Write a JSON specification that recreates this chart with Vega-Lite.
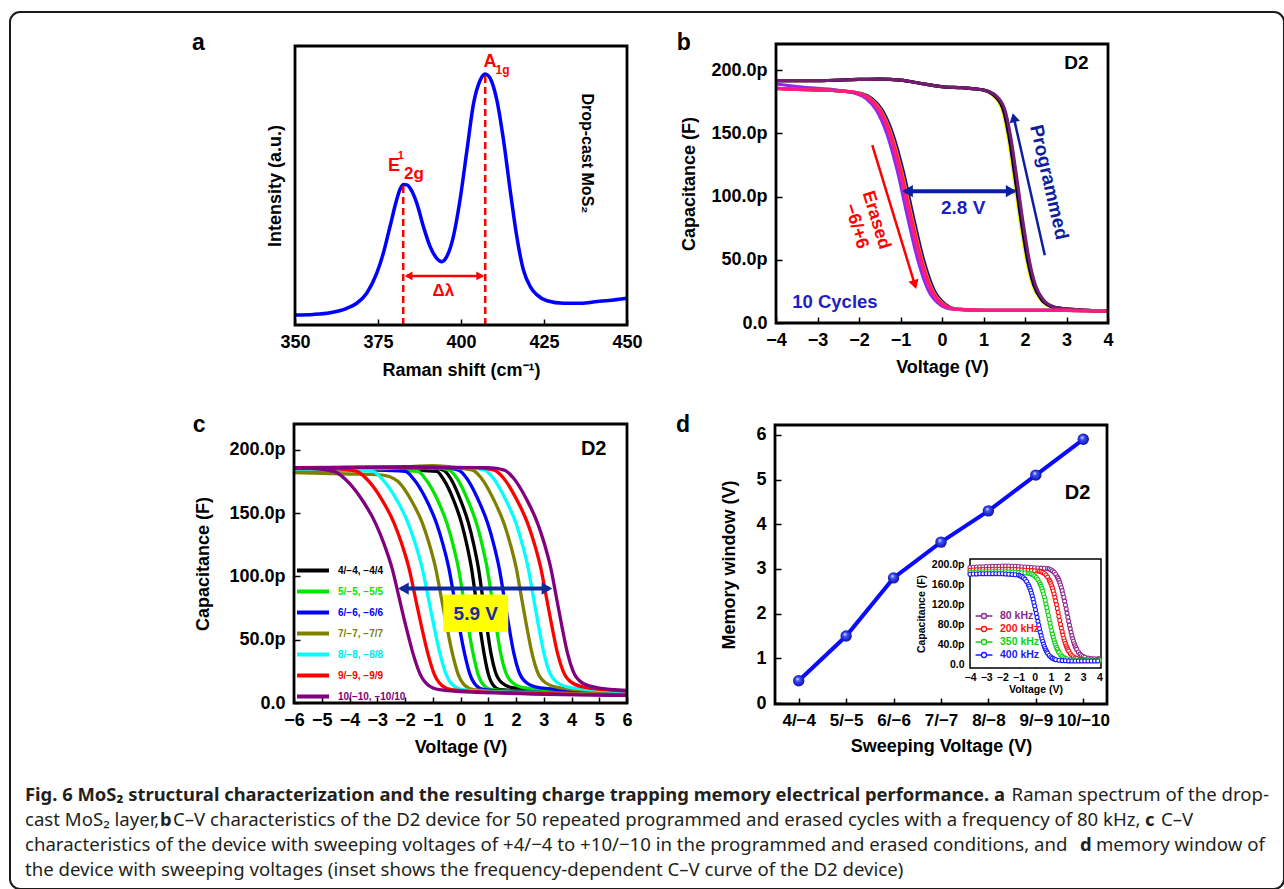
{
"$schema": "https://vega.github.io/schema/vega-lite/v6.json",
"width": 1274, "height": 877,
"padding": {"left": 10, "top": 12, "right": 0, "bottom": 0},
"autosize": {"type": "none"},
"background": "white",
"config": {
  "view": {"stroke": "#1a1a1a", "strokeWidth": 2, "cornerRadius": 10},
  "axis": {"grid": false, "domain": false, "labelFont": "Liberation Sans", "titleFont": "Liberation Sans", "labelFontWeight": "bold", "titleFontWeight": "bold", "labelColor": "#000", "titleColor": "#000", "tickColor": "#000", "tickWidth": 1.5, "tickSize": -6, "labelPadding": 14, "labelFontSize": 18, "titleFontSize": 18, "labelFlush": false, "labelOverlap": false, "labelBound": false}
},
"resolve": {"scale": {"x": "independent", "y": "independent", "color": "independent"}, "axis": {"x": "independent", "y": "independent"}, "legend": {"color": "independent"}},
"layer": [
{
  "layer": [
    {
      "data": {"values": [
        {"shift": 350, "intensity": 3.6}, {"shift": 355.5, "intensity": 3.8}, {"shift": 360.6, "intensity": 4.4}, {"shift": 365.6, "intensity": 6.0}, {"shift": 368.6, "intensity": 7.8}, {"shift": 371.6, "intensity": 11.4}, {"shift": 374.6, "intensity": 18.5}, {"shift": 376.6, "intensity": 25.7}, {"shift": 378.6, "intensity": 35.2}, {"shift": 380.6, "intensity": 44.8}, {"shift": 381.7, "intensity": 48.8}, {"shift": 382.7, "intensity": 50.4}, {"shift": 383.7, "intensity": 50.2}, {"shift": 384.7, "intensity": 49.0}, {"shift": 386.7, "intensity": 43.6}, {"shift": 388.7, "intensity": 35.2}, {"shift": 390.7, "intensity": 28.1}, {"shift": 392.7, "intensity": 23.9}, {"shift": 394.2, "intensity": 22.7}, {"shift": 395.7, "intensity": 24.5}, {"shift": 397.7, "intensity": 31.7}, {"shift": 399.7, "intensity": 44.8}, {"shift": 401.8, "intensity": 62.7}, {"shift": 403.8, "intensity": 79.5}, {"shift": 405.8, "intensity": 87.8}, {"shift": 406.6, "intensity": 89.5}, {"shift": 407.3, "intensity": 90.0}, {"shift": 408.0, "intensity": 89.6}, {"shift": 408.8, "intensity": 88.4}, {"shift": 410.8, "intensity": 80.6}, {"shift": 412.8, "intensity": 66.3}, {"shift": 414.8, "intensity": 48.4}, {"shift": 416.8, "intensity": 31.7}, {"shift": 418.8, "intensity": 19.7}, {"shift": 420.9, "intensity": 13.7}, {"shift": 422.9, "intensity": 10.8}, {"shift": 425.9, "intensity": 8.7}, {"shift": 430.9, "intensity": 7.8}, {"shift": 436, "intensity": 7.8}, {"shift": 441, "intensity": 8.4}, {"shift": 446, "intensity": 9.0}, {"shift": 450, "intensity": 9.6}
      ]},
      "mark": {"type": "line", "color": "#0000ff", "strokeWidth": 3.5, "interpolate": "monotone"},
      "encoding": {
        "x": {"field": "shift", "type": "quantitative", "scale": {"domain": [350, 450], "range": [285, 617], "nice": false, "zero": false},
              "axis": {"orient": "bottom", "offset": -564, "values": [350, 375, 400, 425, 450], "format": "d", "title": "Raman shift (cm⁻¹)", "titlePadding": 10}},
        "y": {"field": "intensity", "type": "quantitative", "scale": {"domain": [0, 100], "range": [313, 34], "nice": false, "zero": false},
              "axis": {"orient": "left", "offset": -285, "labels": false, "ticks": false, "title": "Intensity (a.u.)", "titlePadding": 11}}
      }
    },
    {"data": {"values": [{}]}, "mark": {"type": "rule", "color": "#ff0000", "strokeWidth": 2.5, "strokeDash": [7, 4]}, "encoding": {"x": {"datum": 382.6}, "y": {"datum": 0}, "y2": {"datum": 50.4}}},
    {"data": {"values": [{}]}, "mark": {"type": "rule", "color": "#ff0000", "strokeWidth": 2.5, "strokeDash": [7, 4]}, "encoding": {"x": {"datum": 407.3}, "y": {"datum": 0}, "y2": {"datum": 90}}},
    {"data": {"values": [{}]}, "mark": {"type": "rule", "color": "#ff0000", "strokeWidth": 2.5}, "encoding": {"x": {"datum": 383.5}, "x2": {"datum": 406.5}, "y": {"datum": 17.6}}},
    {"data": {"values": [{}]}, "mark": {"type": "point", "shape": "triangle-left", "filled": true, "opacity": 1, "size": 80, "color": "#ff0000"}, "encoding": {"x": {"datum": 384.2}, "y": {"datum": 17.6}}},
    {"data": {"values": [{}]}, "mark": {"type": "point", "shape": "triangle-right", "filled": true, "opacity": 1, "size": 80, "color": "#ff0000"}, "encoding": {"x": {"datum": 405.8}, "y": {"datum": 17.6}}},
    {"data": {"values": [{}]}, "mark": {"type": "text", "text": "Δλ", "color": "#ff0000", "font": "Liberation Sans", "fontWeight": "bold", "fontSize": 17, "align": "center", "baseline": "middle"}, "encoding": {"x": {"datum": 394.7}, "y": {"datum": 12.3}}},
    {"data": {"values": [{}]}, "mark": {"type": "text", "text": "E", "color": "#ff0000", "font": "Liberation Sans", "fontWeight": "bold", "fontSize": 18, "align": "center", "baseline": "middle"}, "encoding": {"x": {"datum": 379.8}, "y": {"datum": 57.1}}},
    {"data": {"values": [{}]}, "mark": {"type": "text", "text": "1", "color": "#ff0000", "font": "Liberation Sans", "fontWeight": "bold", "fontSize": 11, "align": "center", "baseline": "middle"}, "encoding": {"x": {"datum": 381.9}, "y": {"datum": 60.5}}},
    {"data": {"values": [{}]}, "mark": {"type": "text", "text": "2g", "color": "#ff0000", "font": "Liberation Sans", "fontWeight": "bold", "fontSize": 17, "align": "center", "baseline": "middle"}, "encoding": {"x": {"datum": 385.8}, "y": {"datum": 54.3}}},
    {"data": {"values": [{}]}, "mark": {"type": "text", "text": "A", "color": "#ff0000", "font": "Liberation Sans", "fontWeight": "bold", "fontSize": 18, "align": "center", "baseline": "middle"}, "encoding": {"x": {"datum": 408.7}, "y": {"datum": 94.3}}},
    {"data": {"values": [{}]}, "mark": {"type": "text", "text": "1g", "color": "#ff0000", "font": "Liberation Sans", "fontWeight": "bold", "fontSize": 12, "align": "center", "baseline": "middle"}, "encoding": {"x": {"datum": 412.5}, "y": {"datum": 91.3}}},
    {"data": {"values": [{}]}, "mark": {"type": "text", "text": "Drop-cast MoS₂", "angle": 90, "color": "#000", "font": "Liberation Sans", "fontWeight": "bold", "fontSize": 16, "align": "center", "baseline": "middle"}, "encoding": {"x": {"datum": 437.9}, "y": {"datum": 61.5}}},
    {"data": {"values": [{}]}, "mark": {"type": "text", "text": "a", "color": "#000", "font": "Liberation Sans", "fontWeight": "bold", "fontSize": 23, "align": "center", "baseline": "middle"}, "encoding": {"x": {"datum": 320.9}, "y": {"datum": 101}}},
    {"data": {"values": [{}]}, "mark": {"type": "rect", "filled": false, "stroke": "#000", "strokeWidth": 2.8}, "encoding": {"x": {"datum": 350}, "x2": {"datum": 450}, "y": {"datum": 0}, "y2": {"datum": 100}}}
  ]
},
{
  "layer": [
    {
      "data": {"values": [
        {"v": -4, "c": 191.6, "s": "P1"}, {"v": -3, "c": 191.6, "s": "P1"}, {"v": -2, "c": 192.6, "s": "P1"}, {"v": -1.5, "c": 192.9, "s": "P1"}, {"v": -1, "c": 192, "s": "P1"}, {"v": -0.5, "c": 189.4, "s": "P1"}, {"v": 0, "c": 186.8, "s": "P1"}, {"v": 0.5, "c": 186, "s": "P1"}, {"v": 1, "c": 184.2, "s": "P1"},
        {"v": 1.18, "c": 181, "s": "P1"}, {"v": 1.43, "c": 170, "s": "P1"}, {"v": 1.58, "c": 148, "s": "P1"}, {"v": 1.73, "c": 115, "s": "P1"}, {"v": 1.88, "c": 80, "s": "P1"}, {"v": 2.03, "c": 50, "s": "P1"}, {"v": 2.18, "c": 30, "s": "P1"}, {"v": 2.38, "c": 18, "s": "P1"}, {"v": 2.63, "c": 12.7, "s": "P1"}, {"v": 2.88, "c": 11.3, "s": "P1"}, {"v": 3.5, "c": 10, "s": "P1"}, {"v": 4, "c": 9.2, "s": "P1"},
        {"v": -4, "c": 191.6, "s": "P2"}, {"v": -3, "c": 191.6, "s": "P2"}, {"v": -2, "c": 192.6, "s": "P2"}, {"v": -1.5, "c": 192.9, "s": "P2"}, {"v": -1, "c": 192, "s": "P2"}, {"v": -0.5, "c": 189.4, "s": "P2"}, {"v": 0, "c": 186.8, "s": "P2"}, {"v": 0.5, "c": 186, "s": "P2"}, {"v": 1, "c": 184.2, "s": "P2"},
        {"v": 1.21, "c": 181, "s": "P2"}, {"v": 1.46, "c": 170, "s": "P2"}, {"v": 1.61, "c": 148, "s": "P2"}, {"v": 1.76, "c": 115, "s": "P2"}, {"v": 1.91, "c": 80, "s": "P2"}, {"v": 2.06, "c": 50, "s": "P2"}, {"v": 2.21, "c": 30, "s": "P2"}, {"v": 2.41, "c": 18, "s": "P2"}, {"v": 2.66, "c": 12.7, "s": "P2"}, {"v": 2.91, "c": 11.3, "s": "P2"}, {"v": 3.5, "c": 10, "s": "P2"}, {"v": 4, "c": 9.2, "s": "P2"},
        {"v": -4, "c": 191.6, "s": "P3"}, {"v": -3, "c": 191.6, "s": "P3"}, {"v": -2, "c": 192.6, "s": "P3"}, {"v": -1.5, "c": 192.9, "s": "P3"}, {"v": -1, "c": 192, "s": "P3"}, {"v": -0.5, "c": 189.4, "s": "P3"}, {"v": 0, "c": 186.8, "s": "P3"}, {"v": 0.5, "c": 186, "s": "P3"}, {"v": 1, "c": 184.2, "s": "P3"},
        {"v": 1.23, "c": 181, "s": "P3"}, {"v": 1.48, "c": 170, "s": "P3"}, {"v": 1.63, "c": 148, "s": "P3"}, {"v": 1.78, "c": 115, "s": "P3"}, {"v": 1.93, "c": 80, "s": "P3"}, {"v": 2.08, "c": 50, "s": "P3"}, {"v": 2.23, "c": 30, "s": "P3"}, {"v": 2.43, "c": 18, "s": "P3"}, {"v": 2.68, "c": 12.7, "s": "P3"}, {"v": 2.93, "c": 11.3, "s": "P3"}, {"v": 3.5, "c": 10, "s": "P3"}, {"v": 4, "c": 9.2, "s": "P3"},
        {"v": -4, "c": 191.6, "s": "P4"}, {"v": -3, "c": 191.6, "s": "P4"}, {"v": -2, "c": 192.6, "s": "P4"}, {"v": -1.5, "c": 192.9, "s": "P4"}, {"v": -1, "c": 192, "s": "P4"}, {"v": -0.5, "c": 189.4, "s": "P4"}, {"v": 0, "c": 186.8, "s": "P4"}, {"v": 0.5, "c": 186, "s": "P4"}, {"v": 1, "c": 184.2, "s": "P4"},
        {"v": 1.25, "c": 181, "s": "P4"}, {"v": 1.5, "c": 170, "s": "P4"}, {"v": 1.65, "c": 148, "s": "P4"}, {"v": 1.8, "c": 115, "s": "P4"}, {"v": 1.95, "c": 80, "s": "P4"}, {"v": 2.1, "c": 50, "s": "P4"}, {"v": 2.25, "c": 30, "s": "P4"}, {"v": 2.45, "c": 18, "s": "P4"}, {"v": 2.7, "c": 12.7, "s": "P4"}, {"v": 2.95, "c": 11.3, "s": "P4"}, {"v": 3.5, "c": 10, "s": "P4"}, {"v": 4, "c": 9.2, "s": "P4"},
        {"v": -4, "c": 189, "s": "E1"}, {"v": -3.5, "c": 187, "s": "E1"}, {"v": -3, "c": 185.5, "s": "E1"}, {"v": -2.5, "c": 184, "s": "E1"}, {"v": -2.08, "c": 181.5, "s": "E1"}, {"v": -1.83, "c": 177.6, "s": "E1"}, {"v": -1.58, "c": 168.3, "s": "E1"}, {"v": -1.33, "c": 149.9, "s": "E1"}, {"v": -1.08, "c": 120.8, "s": "E1"}, {"v": -0.83, "c": 83.9, "s": "E1"}, {"v": -0.58, "c": 49.6, "s": "E1"}, {"v": -0.33, "c": 25.9, "s": "E1"}, {"v": -0.08, "c": 15.3, "s": "E1"}, {"v": 0.17, "c": 11.3, "s": "E1"}, {"v": 0.42, "c": 10.6, "s": "E1"}, {"v": 1, "c": 10, "s": "E1"}, {"v": 2, "c": 10, "s": "E1"}, {"v": 3, "c": 10, "s": "E1"}, {"v": 4, "c": 9.5, "s": "E1"},
        {"v": -4, "c": 185.5, "s": "E2"}, {"v": -3.5, "c": 184.7, "s": "E2"}, {"v": -3, "c": 184.2, "s": "E2"}, {"v": -2.5, "c": 183.6, "s": "E2"}, {"v": -1.94, "c": 181.5, "s": "E2"}, {"v": -1.69, "c": 177.6, "s": "E2"}, {"v": -1.44, "c": 168.3, "s": "E2"}, {"v": -1.19, "c": 149.9, "s": "E2"}, {"v": -0.94, "c": 120.8, "s": "E2"}, {"v": -0.69, "c": 83.9, "s": "E2"}, {"v": -0.44, "c": 49.6, "s": "E2"}, {"v": -0.19, "c": 25.9, "s": "E2"}, {"v": 0.06, "c": 15.3, "s": "E2"}, {"v": 0.31, "c": 11.3, "s": "E2"}, {"v": 0.56, "c": 10.6, "s": "E2"}, {"v": 1, "c": 10, "s": "E2"}, {"v": 2, "c": 10, "s": "E2"}, {"v": 3, "c": 10, "s": "E2"}, {"v": 4, "c": 9.5, "s": "E2"},
        {"v": -4, "c": 185.5, "s": "E3"}, {"v": -3.5, "c": 184.7, "s": "E3"}, {"v": -3, "c": 184.2, "s": "E3"}, {"v": -2.5, "c": 183.6, "s": "E3"}, {"v": -1.98, "c": 181.5, "s": "E3"}, {"v": -1.73, "c": 177.6, "s": "E3"}, {"v": -1.48, "c": 168.3, "s": "E3"}, {"v": -1.23, "c": 149.9, "s": "E3"}, {"v": -0.98, "c": 120.8, "s": "E3"}, {"v": -0.73, "c": 83.9, "s": "E3"}, {"v": -0.48, "c": 49.6, "s": "E3"}, {"v": -0.23, "c": 25.9, "s": "E3"}, {"v": 0.02, "c": 15.3, "s": "E3"}, {"v": 0.27, "c": 11.3, "s": "E3"}, {"v": 0.52, "c": 10.6, "s": "E3"}, {"v": 1, "c": 10, "s": "E3"}, {"v": 2, "c": 10, "s": "E3"}, {"v": 3, "c": 10, "s": "E3"}, {"v": 4, "c": 9.5, "s": "E3"},
        {"v": -4, "c": 185.5, "s": "E4"}, {"v": -3.5, "c": 184.7, "s": "E4"}, {"v": -3, "c": 184.2, "s": "E4"}, {"v": -2.5, "c": 183.6, "s": "E4"}, {"v": -2, "c": 181.5, "s": "E4"}, {"v": -1.75, "c": 177.6, "s": "E4"}, {"v": -1.5, "c": 168.3, "s": "E4"}, {"v": -1.25, "c": 149.9, "s": "E4"}, {"v": -1.0, "c": 120.8, "s": "E4"}, {"v": -0.75, "c": 83.9, "s": "E4"}, {"v": -0.5, "c": 49.6, "s": "E4"}, {"v": -0.25, "c": 25.9, "s": "E4"}, {"v": 0, "c": 15.3, "s": "E4"}, {"v": 0.25, "c": 11.3, "s": "E4"}, {"v": 0.5, "c": 10.6, "s": "E4"}, {"v": 1, "c": 10, "s": "E4"}, {"v": 2, "c": 10, "s": "E4"}, {"v": 3, "c": 10, "s": "E4"}, {"v": 4, "c": 9.5, "s": "E4"},
        {"v": -4, "c": 185.5, "s": "E5"}, {"v": -3.5, "c": 184.7, "s": "E5"}, {"v": -3, "c": 184.2, "s": "E5"}, {"v": -2.5, "c": 183.6, "s": "E5"}, {"v": -2.02, "c": 181.5, "s": "E5"}, {"v": -1.77, "c": 177.6, "s": "E5"}, {"v": -1.52, "c": 168.3, "s": "E5"}, {"v": -1.27, "c": 149.9, "s": "E5"}, {"v": -1.02, "c": 120.8, "s": "E5"}, {"v": -0.77, "c": 83.9, "s": "E5"}, {"v": -0.52, "c": 49.6, "s": "E5"}, {"v": -0.27, "c": 25.9, "s": "E5"}, {"v": -0.02, "c": 15.3, "s": "E5"}, {"v": 0.23, "c": 11.3, "s": "E5"}, {"v": 0.48, "c": 10.6, "s": "E5"}, {"v": 1, "c": 10, "s": "E5"}, {"v": 2, "c": 10, "s": "E5"}, {"v": 3, "c": 10, "s": "E5"}, {"v": 4, "c": 9.5, "s": "E5"}
      ]},
      "mark": {"type": "line", "strokeWidth": 3.2, "interpolate": "monotone"},
      "encoding": {
        "x": {"field": "v", "type": "quantitative", "scale": {"domain": [-4, 4], "range": [766, 1098], "nice": false, "zero": false},
              "axis": {"orient": "bottom", "offset": -566, "values": [-4, -3, -2, -1, 0, 1, 2, 3, 4], "format": "d", "title": "Voltage (V)", "titlePadding": 9}},
        "y": {"field": "c", "type": "quantitative", "scale": {"domain": [0, 220.6], "range": [311, 32], "nice": false, "zero": false},
              "axis": {"orient": "left", "offset": -766, "values": [0, 50, 100, 150, 200], "labelExpr": "datum.value == 0 ? '0.0' : format(datum.value, '.1f') + 'p'", "labelPadding": 15, "title": "Capacitance (F)", "titlePadding": 12}},
        "color": {"field": "s", "type": "nominal", "scale": {"domain": ["P1", "P2", "P3", "P4", "E1", "E2", "E3", "E4", "E5"], "range": ["#ffff00", "#000080", "#000000", "#761c72", "#8f2be8", "#14148c", "#ff8c00", "#ff2020", "#ff1a8c"]}, "legend": null}
      }
    },
    {"data": {"values": [{}]}, "mark": {"type": "rule", "color": "#0b1fa3", "strokeWidth": 4}, "encoding": {"x": {"datum": -0.9}, "x2": {"datum": 1.75}, "y": {"datum": 104.2}}},
    {"data": {"values": [{}]}, "mark": {"type": "point", "shape": "triangle-left", "filled": true, "opacity": 1, "size": 150, "color": "#0b1fa3"}, "encoding": {"x": {"datum": -0.83}, "y": {"datum": 104.2}}},
    {"data": {"values": [{}]}, "mark": {"type": "point", "shape": "triangle-right", "filled": true, "opacity": 1, "size": 150, "color": "#0b1fa3"}, "encoding": {"x": {"datum": 1.665}, "y": {"datum": 104.2}}},
    {"data": {"values": [{}]}, "mark": {"type": "rule", "color": "#ff0000", "strokeWidth": 2.5}, "encoding": {"x": {"datum": -1.68}, "y": {"datum": 140.6}, "x2": {"datum": -0.655}, "y2": {"datum": 30.4}}},
    {"data": {"values": [{}]}, "mark": {"type": "point", "shape": "triangle-down", "angle": 343, "filled": true, "opacity": 1, "size": 110, "color": "#ff0000"}, "encoding": {"x": {"datum": -0.655}, "y": {"datum": 30.4}}},
    {"data": {"values": [{}]}, "mark": {"type": "rule", "color": "#0d1f9e", "strokeWidth": 2.5}, "encoding": {"x": {"datum": 2.477}, "y": {"datum": 53.6}, "x2": {"datum": 1.73}, "y2": {"datum": 162.4}}},
    {"data": {"values": [{}]}, "mark": {"type": "point", "shape": "triangle-up", "angle": 347, "filled": true, "opacity": 1, "size": 110, "color": "#0d1f9e"}, "encoding": {"x": {"datum": 1.73}, "y": {"datum": 162.4}}},
    {"data": {"values": [{}]}, "mark": {"type": "text", "text": "D2", "color": "#000", "font": "Liberation Sans", "fontWeight": "bold", "fontSize": 19, "align": "center", "baseline": "middle"}, "encoding": {"x": {"datum": 3.24}, "y": {"datum": 205.5}}},
    {"data": {"values": [{}]}, "mark": {"type": "text", "text": "10 Cycles", "color": "#1f1fbf", "font": "Liberation Sans", "fontWeight": "bold", "fontSize": 18.5, "align": "center", "baseline": "middle"}, "encoding": {"x": {"datum": -2.58}, "y": {"datum": 16.4}}},
    {"data": {"values": [{}]}, "mark": {"type": "text", "text": "2.8 V", "color": "#1f1fbf", "font": "Liberation Sans", "fontWeight": "bold", "fontSize": 19, "align": "center", "baseline": "middle"}, "encoding": {"x": {"datum": 0.51}, "y": {"datum": 91.3}}},
    {"data": {"values": [{}]}, "mark": {"type": "text", "text": "Erased", "angle": 73, "color": "#ff0000", "font": "Liberation Sans", "fontWeight": "bold", "fontSize": 18, "align": "center", "baseline": "middle"}, "encoding": {"x": {"datum": -1.59}, "y": {"datum": 81.3}}},
    {"data": {"values": [{}]}, "mark": {"type": "text", "text": "−6/+6", "angle": 73, "color": "#ff0000", "font": "Liberation Sans", "fontWeight": "bold", "fontSize": 18, "align": "center", "baseline": "middle"}, "encoding": {"x": {"datum": -2.07}, "y": {"datum": 76.5}}},
    {"data": {"values": [{}]}, "mark": {"type": "text", "text": "Programmed", "angle": 77, "color": "#0d1f9e", "font": "Liberation Sans", "fontWeight": "bold", "fontSize": 19, "align": "center", "baseline": "middle"}, "encoding": {"x": {"datum": 2.58}, "y": {"datum": 111.3}}},
    {"data": {"values": [{}]}, "mark": {"type": "text", "text": "b", "color": "#000", "font": "Liberation Sans", "fontWeight": "bold", "fontSize": 23, "align": "center", "baseline": "middle"}, "encoding": {"x": {"datum": -6.22}, "y": {"datum": 221.2}}},
    {"data": {"values": [{}]}, "mark": {"type": "rect", "filled": false, "stroke": "#000", "strokeWidth": 2.8}, "encoding": {"x": {"datum": -4}, "x2": {"datum": 4}, "y": {"datum": 0}, "y2": {"datum": 220.6}}}
  ]
},
{
  "layer": [
    {
      "data": {"values": [
        {"v": -6, "c": 185, "sweep": "4/−4, −4/4", "branch": "4L"}, {"v": -3, "c": 185, "sweep": "4/−4, −4/4", "branch": "4L"}, {"v": -0.86, "c": 183, "sweep": "4/−4, −4/4", "branch": "4L"}, {"v": -0.62, "c": 177, "sweep": "4/−4, −4/4", "branch": "4L"}, {"v": -0.26, "c": 161, "sweep": "4/−4, −4/4", "branch": "4L"}, {"v": 0.04, "c": 142, "sweep": "4/−4, −4/4", "branch": "4L"}, {"v": 0.22, "c": 126, "sweep": "4/−4, −4/4", "branch": "4L"}, {"v": 0.40, "c": 106, "sweep": "4/−4, −4/4", "branch": "4L"}, {"v": 0.55, "c": 83, "sweep": "4/−4, −4/4", "branch": "4L"}, {"v": 0.70, "c": 60, "sweep": "4/−4, −4/4", "branch": "4L"}, {"v": 0.85, "c": 39, "sweep": "4/−4, −4/4", "branch": "4L"}, {"v": 1.00, "c": 23, "sweep": "4/−4, −4/4", "branch": "4L"}, {"v": 1.18, "c": 14, "sweep": "4/−4, −4/4", "branch": "4L"}, {"v": 1.42, "c": 10.5, "sweep": "4/−4, −4/4", "branch": "4L"}, {"v": 3, "c": 9, "sweep": "4/−4, −4/4", "branch": "4L"}, {"v": 6, "c": 7.5, "sweep": "4/−4, −4/4", "branch": "4L"},
        {"v": -6, "c": 185, "sweep": "4/−4, −4/4", "branch": "4R"}, {"v": -3, "c": 185.5, "sweep": "4/−4, −4/4", "branch": "4R"}, {"v": -1.09, "c": 186, "sweep": "4/−4, −4/4", "branch": "4R"}, {"v": -0.61, "c": 184, "sweep": "4/−4, −4/4", "branch": "4R"}, {"v": -0.37, "c": 178, "sweep": "4/−4, −4/4", "branch": "4R"}, {"v": -0.01, "c": 161, "sweep": "4/−4, −4/4", "branch": "4R"}, {"v": 0.29, "c": 142, "sweep": "4/−4, −4/4", "branch": "4R"}, {"v": 0.47, "c": 126, "sweep": "4/−4, −4/4", "branch": "4R"}, {"v": 0.65, "c": 106, "sweep": "4/−4, −4/4", "branch": "4R"}, {"v": 0.80, "c": 83, "sweep": "4/−4, −4/4", "branch": "4R"}, {"v": 0.95, "c": 60, "sweep": "4/−4, −4/4", "branch": "4R"}, {"v": 1.10, "c": 39, "sweep": "4/−4, −4/4", "branch": "4R"}, {"v": 1.25, "c": 25, "sweep": "4/−4, −4/4", "branch": "4R"}, {"v": 1.49, "c": 16, "sweep": "4/−4, −4/4", "branch": "4R"}, {"v": 1.91, "c": 12, "sweep": "4/−4, −4/4", "branch": "4R"}, {"v": 6, "c": 7.5, "sweep": "4/−4, −4/4", "branch": "4R"},
        {"v": -6, "c": 185, "sweep": "5/−5, −5/5", "branch": "5L"}, {"v": -3, "c": 184.5, "sweep": "5/−5, −5/5", "branch": "5L"}, {"v": -1.54, "c": 183, "sweep": "5/−5, −5/5", "branch": "5L"}, {"v": -1.26, "c": 177, "sweep": "5/−5, −5/5", "branch": "5L"}, {"v": -0.84, "c": 161, "sweep": "5/−5, −5/5", "branch": "5L"}, {"v": -0.49, "c": 142, "sweep": "5/−5, −5/5", "branch": "5L"}, {"v": -0.28, "c": 126, "sweep": "5/−5, −5/5", "branch": "5L"}, {"v": -0.07, "c": 106, "sweep": "5/−5, −5/5", "branch": "5L"}, {"v": 0.105, "c": 83, "sweep": "5/−5, −5/5", "branch": "5L"}, {"v": 0.28, "c": 60, "sweep": "5/−5, −5/5", "branch": "5L"}, {"v": 0.455, "c": 39, "sweep": "5/−5, −5/5", "branch": "5L"}, {"v": 0.63, "c": 23, "sweep": "5/−5, −5/5", "branch": "5L"}, {"v": 0.84, "c": 14, "sweep": "5/−5, −5/5", "branch": "5L"}, {"v": 1.12, "c": 10.5, "sweep": "5/−5, −5/5", "branch": "5L"}, {"v": 2.5, "c": 9, "sweep": "5/−5, −5/5", "branch": "5L"}, {"v": 6, "c": 7.5, "sweep": "5/−5, −5/5", "branch": "5L"},
        {"v": -6, "c": 185, "sweep": "5/−5, −5/5", "branch": "5R"}, {"v": -3, "c": 185.5, "sweep": "5/−5, −5/5", "branch": "5R"}, {"v": -0.92, "c": 186, "sweep": "5/−5, −5/5", "branch": "5R"}, {"v": -0.40, "c": 184, "sweep": "5/−5, −5/5", "branch": "5R"}, {"v": -0.14, "c": 178, "sweep": "5/−5, −5/5", "branch": "5R"}, {"v": 0.25, "c": 161, "sweep": "5/−5, −5/5", "branch": "5R"}, {"v": 0.575, "c": 142, "sweep": "5/−5, −5/5", "branch": "5R"}, {"v": 0.77, "c": 126, "sweep": "5/−5, −5/5", "branch": "5R"}, {"v": 0.965, "c": 106, "sweep": "5/−5, −5/5", "branch": "5R"}, {"v": 1.13, "c": 83, "sweep": "5/−5, −5/5", "branch": "5R"}, {"v": 1.29, "c": 60, "sweep": "5/−5, −5/5", "branch": "5R"}, {"v": 1.45, "c": 39, "sweep": "5/−5, −5/5", "branch": "5R"}, {"v": 1.615, "c": 25, "sweep": "5/−5, −5/5", "branch": "5R"}, {"v": 1.875, "c": 16, "sweep": "5/−5, −5/5", "branch": "5R"}, {"v": 2.33, "c": 12, "sweep": "5/−5, −5/5", "branch": "5R"}, {"v": 6, "c": 8, "sweep": "5/−5, −5/5", "branch": "5R"},
        {"v": -6, "c": 184.5, "sweep": "6/−6, −6/6", "branch": "6L"}, {"v": -3, "c": 184, "sweep": "6/−6, −6/6", "branch": "6L"}, {"v": -1.99, "c": 183, "sweep": "6/−6, −6/6", "branch": "6L"}, {"v": -1.69, "c": 177, "sweep": "6/−6, −6/6", "branch": "6L"}, {"v": -1.24, "c": 161, "sweep": "6/−6, −6/6", "branch": "6L"}, {"v": -0.865, "c": 142, "sweep": "6/−6, −6/6", "branch": "6L"}, {"v": -0.64, "c": 126, "sweep": "6/−6, −6/6", "branch": "6L"}, {"v": -0.415, "c": 106, "sweep": "6/−6, −6/6", "branch": "6L"}, {"v": -0.2275, "c": 83, "sweep": "6/−6, −6/6", "branch": "6L"}, {"v": -0.04, "c": 60, "sweep": "6/−6, −6/6", "branch": "6L"}, {"v": 0.1475, "c": 39, "sweep": "6/−6, −6/6", "branch": "6L"}, {"v": 0.335, "c": 23, "sweep": "6/−6, −6/6", "branch": "6L"}, {"v": 0.56, "c": 14, "sweep": "6/−6, −6/6", "branch": "6L"}, {"v": 0.86, "c": 10.5, "sweep": "6/−6, −6/6", "branch": "6L"}, {"v": 2, "c": 9, "sweep": "6/−6, −6/6", "branch": "6L"}, {"v": 6, "c": 7, "sweep": "6/−6, −6/6", "branch": "6L"},
        {"v": -6, "c": 185, "sweep": "6/−6, −6/6", "branch": "6R"}, {"v": -3, "c": 185.5, "sweep": "6/−6, −6/6", "branch": "6R"}, {"v": -0.63, "c": 186, "sweep": "6/−6, −6/6", "branch": "6R"}, {"v": -0.07, "c": 184, "sweep": "6/−6, −6/6", "branch": "6R"}, {"v": 0.21, "c": 178, "sweep": "6/−6, −6/6", "branch": "6R"}, {"v": 0.63, "c": 161, "sweep": "6/−6, −6/6", "branch": "6R"}, {"v": 0.98, "c": 142, "sweep": "6/−6, −6/6", "branch": "6R"}, {"v": 1.19, "c": 126, "sweep": "6/−6, −6/6", "branch": "6R"}, {"v": 1.40, "c": 106, "sweep": "6/−6, −6/6", "branch": "6R"}, {"v": 1.575, "c": 83, "sweep": "6/−6, −6/6", "branch": "6R"}, {"v": 1.75, "c": 60, "sweep": "6/−6, −6/6", "branch": "6R"}, {"v": 1.925, "c": 39, "sweep": "6/−6, −6/6", "branch": "6R"}, {"v": 2.10, "c": 25, "sweep": "6/−6, −6/6", "branch": "6R"}, {"v": 2.38, "c": 16, "sweep": "6/−6, −6/6", "branch": "6R"}, {"v": 2.87, "c": 12, "sweep": "6/−6, −6/6", "branch": "6R"}, {"v": 6, "c": 8, "sweep": "6/−6, −6/6", "branch": "6R"},
        {"v": -6, "c": 182, "sweep": "7/−7, −7/7", "branch": "7L"}, {"v": -4, "c": 181, "sweep": "7/−7, −7/7", "branch": "7L"}, {"v": -3, "c": 180.5, "sweep": "7/−7, −7/7", "branch": "7L"}, {"v": -2.57, "c": 179, "sweep": "7/−7, −7/7", "branch": "7L"}, {"v": -2.25, "c": 175, "sweep": "7/−7, −7/7", "branch": "7L"}, {"v": -1.77, "c": 160, "sweep": "7/−7, −7/7", "branch": "7L"}, {"v": -1.37, "c": 142, "sweep": "7/−7, −7/7", "branch": "7L"}, {"v": -1.13, "c": 126, "sweep": "7/−7, −7/7", "branch": "7L"}, {"v": -0.89, "c": 106, "sweep": "7/−7, −7/7", "branch": "7L"}, {"v": -0.69, "c": 83, "sweep": "7/−7, −7/7", "branch": "7L"}, {"v": -0.49, "c": 60, "sweep": "7/−7, −7/7", "branch": "7L"}, {"v": -0.29, "c": 39, "sweep": "7/−7, −7/7", "branch": "7L"}, {"v": -0.09, "c": 23, "sweep": "7/−7, −7/7", "branch": "7L"}, {"v": 0.15, "c": 14, "sweep": "7/−7, −7/7", "branch": "7L"}, {"v": 0.47, "c": 10.5, "sweep": "7/−7, −7/7", "branch": "7L"}, {"v": 1.5, "c": 9, "sweep": "7/−7, −7/7", "branch": "7L"}, {"v": 6, "c": 7, "sweep": "7/−7, −7/7", "branch": "7L"},
        {"v": -6, "c": 183, "sweep": "7/−7, −7/7", "branch": "7R"}, {"v": -3, "c": 185, "sweep": "7/−7, −7/7", "branch": "7R"}, {"v": -1, "c": 187.5, "sweep": "7/−7, −7/7", "branch": "7R"}, {"v": -0.16, "c": 186, "sweep": "7/−7, −7/7", "branch": "7R"}, {"v": 0.44, "c": 184, "sweep": "7/−7, −7/7", "branch": "7R"}, {"v": 0.74, "c": 178, "sweep": "7/−7, −7/7", "branch": "7R"}, {"v": 1.19, "c": 161, "sweep": "7/−7, −7/7", "branch": "7R"}, {"v": 1.565, "c": 142, "sweep": "7/−7, −7/7", "branch": "7R"}, {"v": 1.79, "c": 126, "sweep": "7/−7, −7/7", "branch": "7R"}, {"v": 2.015, "c": 106, "sweep": "7/−7, −7/7", "branch": "7R"}, {"v": 2.20, "c": 83, "sweep": "7/−7, −7/7", "branch": "7R"}, {"v": 2.39, "c": 60, "sweep": "7/−7, −7/7", "branch": "7R"}, {"v": 2.58, "c": 39, "sweep": "7/−7, −7/7", "branch": "7R"}, {"v": 2.765, "c": 25, "sweep": "7/−7, −7/7", "branch": "7R"}, {"v": 3.065, "c": 16, "sweep": "7/−7, −7/7", "branch": "7R"}, {"v": 3.59, "c": 12, "sweep": "7/−7, −7/7", "branch": "7R"}, {"v": 6, "c": 8.5, "sweep": "7/−7, −7/7", "branch": "7R"},
        {"v": -6, "c": 185, "sweep": "8/−8, −8/8", "branch": "8L"}, {"v": -4, "c": 184, "sweep": "8/−8, −8/8", "branch": "8L"}, {"v": -3.16, "c": 183, "sweep": "8/−8, −8/8", "branch": "8L"}, {"v": -2.82, "c": 177, "sweep": "8/−8, −8/8", "branch": "8L"}, {"v": -2.31, "c": 161, "sweep": "8/−8, −8/8", "branch": "8L"}, {"v": -1.885, "c": 142, "sweep": "8/−8, −8/8", "branch": "8L"}, {"v": -1.63, "c": 126, "sweep": "8/−8, −8/8", "branch": "8L"}, {"v": -1.375, "c": 106, "sweep": "8/−8, −8/8", "branch": "8L"}, {"v": -1.16, "c": 83, "sweep": "8/−8, −8/8", "branch": "8L"}, {"v": -0.95, "c": 60, "sweep": "8/−8, −8/8", "branch": "8L"}, {"v": -0.74, "c": 39, "sweep": "8/−8, −8/8", "branch": "8L"}, {"v": -0.525, "c": 23, "sweep": "8/−8, −8/8", "branch": "8L"}, {"v": -0.27, "c": 14, "sweep": "8/−8, −8/8", "branch": "8L"}, {"v": 0.07, "c": 10.5, "sweep": "8/−8, −8/8", "branch": "8L"}, {"v": 1, "c": 9, "sweep": "8/−8, −8/8", "branch": "8L"}, {"v": 6, "c": 6.5, "sweep": "8/−8, −8/8", "branch": "8L"},
        {"v": -6, "c": 185, "sweep": "8/−8, −8/8", "branch": "8R"}, {"v": -2, "c": 186, "sweep": "8/−8, −8/8", "branch": "8R"}, {"v": 0.27, "c": 186, "sweep": "8/−8, −8/8", "branch": "8R"}, {"v": 0.87, "c": 184, "sweep": "8/−8, −8/8", "branch": "8R"}, {"v": 1.17, "c": 178, "sweep": "8/−8, −8/8", "branch": "8R"}, {"v": 1.62, "c": 161, "sweep": "8/−8, −8/8", "branch": "8R"}, {"v": 2.00, "c": 142, "sweep": "8/−8, −8/8", "branch": "8R"}, {"v": 2.22, "c": 126, "sweep": "8/−8, −8/8", "branch": "8R"}, {"v": 2.445, "c": 106, "sweep": "8/−8, −8/8", "branch": "8R"}, {"v": 2.63, "c": 83, "sweep": "8/−8, −8/8", "branch": "8R"}, {"v": 2.82, "c": 60, "sweep": "8/−8, −8/8", "branch": "8R"}, {"v": 3.01, "c": 39, "sweep": "8/−8, −8/8", "branch": "8R"}, {"v": 3.195, "c": 25, "sweep": "8/−8, −8/8", "branch": "8R"}, {"v": 3.495, "c": 16, "sweep": "8/−8, −8/8", "branch": "8R"}, {"v": 4.02, "c": 12, "sweep": "8/−8, −8/8", "branch": "8R"}, {"v": 6, "c": 9, "sweep": "8/−8, −8/8", "branch": "8R"},
        {"v": -6, "c": 185.5, "sweep": "9/−9, −9/9", "branch": "9L"}, {"v": -4.5, "c": 185, "sweep": "9/−9, −9/9", "branch": "9L"}, {"v": -3.74, "c": 183, "sweep": "9/−9, −9/9", "branch": "9L"}, {"v": -3.38, "c": 177, "sweep": "9/−9, −9/9", "branch": "9L"}, {"v": -2.84, "c": 161, "sweep": "9/−9, −9/9", "branch": "9L"}, {"v": -2.39, "c": 142, "sweep": "9/−9, −9/9", "branch": "9L"}, {"v": -2.12, "c": 126, "sweep": "9/−9, −9/9", "branch": "9L"}, {"v": -1.85, "c": 106, "sweep": "9/−9, −9/9", "branch": "9L"}, {"v": -1.625, "c": 83, "sweep": "9/−9, −9/9", "branch": "9L"}, {"v": -1.40, "c": 60, "sweep": "9/−9, −9/9", "branch": "9L"}, {"v": -1.175, "c": 39, "sweep": "9/−9, −9/9", "branch": "9L"}, {"v": -0.95, "c": 23, "sweep": "9/−9, −9/9", "branch": "9L"}, {"v": -0.68, "c": 14, "sweep": "9/−9, −9/9", "branch": "9L"}, {"v": -0.32, "c": 10.5, "sweep": "9/−9, −9/9", "branch": "9L"}, {"v": 0.5, "c": 9, "sweep": "9/−9, −9/9", "branch": "9L"}, {"v": 6, "c": 6.5, "sweep": "9/−9, −9/9", "branch": "9L"},
        {"v": -6, "c": 186, "sweep": "9/−9, −9/9", "branch": "9R"}, {"v": -2, "c": 186.5, "sweep": "9/−9, −9/9", "branch": "9R"}, {"v": 0.58, "c": 186, "sweep": "9/−9, −9/9", "branch": "9R"}, {"v": 1.22, "c": 184, "sweep": "9/−9, −9/9", "branch": "9R"}, {"v": 1.54, "c": 178, "sweep": "9/−9, −9/9", "branch": "9R"}, {"v": 2.02, "c": 161, "sweep": "9/−9, −9/9", "branch": "9R"}, {"v": 2.42, "c": 142, "sweep": "9/−9, −9/9", "branch": "9R"}, {"v": 2.66, "c": 126, "sweep": "9/−9, −9/9", "branch": "9R"}, {"v": 2.90, "c": 106, "sweep": "9/−9, −9/9", "branch": "9R"}, {"v": 3.10, "c": 83, "sweep": "9/−9, −9/9", "branch": "9R"}, {"v": 3.30, "c": 60, "sweep": "9/−9, −9/9", "branch": "9R"}, {"v": 3.50, "c": 39, "sweep": "9/−9, −9/9", "branch": "9R"}, {"v": 3.70, "c": 25, "sweep": "9/−9, −9/9", "branch": "9R"}, {"v": 4.02, "c": 16, "sweep": "9/−9, −9/9", "branch": "9R"}, {"v": 4.58, "c": 12, "sweep": "9/−9, −9/9", "branch": "9R"}, {"v": 6, "c": 9.5, "sweep": "9/−9, −9/9", "branch": "9R"},
        {"v": -6, "c": 186, "sweep": "10/−10, −10/10", "branch": "10L"}, {"v": -5.36, "c": 185.5, "sweep": "10/−10, −10/10", "branch": "10L"}, {"v": -4.56, "c": 183, "sweep": "10/−10, −10/10", "branch": "10L"}, {"v": -4.16, "c": 177, "sweep": "10/−10, −10/10", "branch": "10L"}, {"v": -3.56, "c": 161, "sweep": "10/−10, −10/10", "branch": "10L"}, {"v": -3.06, "c": 142, "sweep": "10/−10, −10/10", "branch": "10L"}, {"v": -2.76, "c": 126, "sweep": "10/−10, −10/10", "branch": "10L"}, {"v": -2.46, "c": 106, "sweep": "10/−10, −10/10", "branch": "10L"}, {"v": -2.21, "c": 83, "sweep": "10/−10, −10/10", "branch": "10L"}, {"v": -1.96, "c": 60, "sweep": "10/−10, −10/10", "branch": "10L"}, {"v": -1.71, "c": 39, "sweep": "10/−10, −10/10", "branch": "10L"}, {"v": -1.46, "c": 23, "sweep": "10/−10, −10/10", "branch": "10L"}, {"v": -1.16, "c": 14, "sweep": "10/−10, −10/10", "branch": "10L"}, {"v": -0.76, "c": 10.5, "sweep": "10/−10, −10/10", "branch": "10L"}, {"v": 0, "c": 9, "sweep": "10/−10, −10/10", "branch": "10L"}, {"v": 6, "c": 6, "sweep": "10/−10, −10/10", "branch": "10L"},
        {"v": -6, "c": 185.5, "sweep": "10/−10, −10/10", "branch": "10R"}, {"v": -2, "c": 186.5, "sweep": "10/−10, −10/10", "branch": "10R"}, {"v": 0, "c": 186, "sweep": "10/−10, −10/10", "branch": "10R"}, {"v": 1.02, "c": 186, "sweep": "10/−10, −10/10", "branch": "10R"}, {"v": 1.58, "c": 184, "sweep": "10/−10, −10/10", "branch": "10R"}, {"v": 1.90, "c": 178, "sweep": "10/−10, −10/10", "branch": "10R"}, {"v": 2.38, "c": 161, "sweep": "10/−10, −10/10", "branch": "10R"}, {"v": 2.78, "c": 142, "sweep": "10/−10, −10/10", "branch": "10R"}, {"v": 3.02, "c": 126, "sweep": "10/−10, −10/10", "branch": "10R"}, {"v": 3.26, "c": 106, "sweep": "10/−10, −10/10", "branch": "10R"}, {"v": 3.46, "c": 83, "sweep": "10/−10, −10/10", "branch": "10R"}, {"v": 3.66, "c": 60, "sweep": "10/−10, −10/10", "branch": "10R"}, {"v": 3.86, "c": 39, "sweep": "10/−10, −10/10", "branch": "10R"}, {"v": 4.06, "c": 25, "sweep": "10/−10, −10/10", "branch": "10R"}, {"v": 4.38, "c": 16, "sweep": "10/−10, −10/10", "branch": "10R"}, {"v": 4.94, "c": 12, "sweep": "10/−10, −10/10", "branch": "10R"}, {"v": 6, "c": 10, "sweep": "10/−10, −10/10", "branch": "10R"}
      ]},
      "mark": {"type": "line", "strokeWidth": 3.3, "interpolate": "monotone"},
      "encoding": {
        "x": {"field": "v", "type": "quantitative", "scale": {"domain": [-6, 6], "range": [284, 617], "nice": false, "zero": false},
              "axis": {"orient": "bottom", "offset": -186, "values": [-6, -5, -4, -3, -2, -1, 0, 1, 2, 3, 4, 5, 6], "format": "d", "title": "Voltage (V)", "titlePadding": 9}},
        "y": {"field": "c", "type": "quantitative", "scale": {"domain": [0, 220.5], "range": [691, 412], "nice": false, "zero": false},
              "axis": {"orient": "left", "offset": -284, "values": [0, 50, 100, 150, 200], "labelExpr": "datum.value == 0 ? '0.0' : format(datum.value, '.1f') + 'p'", "labelPadding": 15, "title": "Capacitance (F)", "titlePadding": 16}},
        "detail": {"field": "branch"},
        "color": {"field": "sweep", "type": "nominal",
                  "scale": {"domain": ["4/−4, −4/4", "5/−5, −5/5", "6/−6, −6/6", "7/−7, −7/7", "8/−8, −8/8", "9/−9, −9/9", "10/−10, −10/10"], "range": ["#000000", "#00e600", "#0000ff", "#808000", "#00ffff", "#ff0000", "#800080"]},
                  "legend": {"orient": "none", "legendX": 291, "legendY": 546.5, "title": null, "padding": 0, "symbolType": "M-1.6,0H1.6", "symbolSize": 400, "symbolStrokeWidth": 4, "labelFont": "Liberation Sans", "labelFontWeight": "bold", "labelFontSize": 10, "labelOffset": 13, "rowPadding": 1,
                             "labelColor": {"expr": "datum.label == '5/−5, −5/5' ? '#00e600' : datum.label == '6/−6, −6/6' ? '#0000ff' : datum.label == '7/−7, −7/7' ? '#808000' : datum.label == '8/−8, −8/8' ? '#00e5ee' : datum.label == '9/−9, −9/9' ? '#ff0000' : datum.label == '10/−10, −10/10' ? '#800080' : '#000000'"}}}
      }
    },
    {"data": {"values": [{}]}, "mark": {"type": "rule", "color": "#102a9c", "strokeWidth": 4}, "encoding": {"x": {"datum": -2.15}, "x2": {"datum": 3.2}, "y": {"datum": 90.4}}},
    {"data": {"values": [{}]}, "mark": {"type": "point", "shape": "triangle-left", "filled": true, "opacity": 1, "size": 150, "color": "#102a9c"}, "encoding": {"x": {"datum": -2.055}, "y": {"datum": 90.4}}},
    {"data": {"values": [{}]}, "mark": {"type": "point", "shape": "triangle-right", "filled": true, "opacity": 1, "size": 150, "color": "#102a9c"}, "encoding": {"x": {"datum": 3.115}, "y": {"datum": 90.4}}},
    {"data": {"values": [{}]}, "mark": {"type": "rect", "color": "#ffff00", "opacity": 1}, "encoding": {"x": {"datum": -0.62}, "x2": {"datum": 1.72}, "y": {"datum": 56.1}, "y2": {"datum": 85.7}}},
    {"data": {"values": [{}]}, "mark": {"type": "text", "text": "5.9 V", "color": "#1d2a9c", "font": "Liberation Sans", "fontWeight": "bold", "fontSize": 19, "align": "center", "baseline": "middle"}, "encoding": {"x": {"datum": 0.55}, "y": {"datum": 70.7}}},
    {"data": {"values": [{}]}, "mark": {"type": "text", "text": "D2", "color": "#000", "font": "Liberation Sans", "fontWeight": "bold", "fontSize": 20, "align": "center", "baseline": "middle"}, "encoding": {"x": {"datum": 4.8}, "y": {"datum": 201.1}}},
    {"data": {"values": [{}]}, "mark": {"type": "text", "text": "c", "color": "#000", "font": "Liberation Sans", "fontWeight": "bold", "fontSize": 23, "align": "center", "baseline": "middle"}, "encoding": {"x": {"datum": -9.42}, "y": {"datum": 219.5}}},
    {"data": {"values": [{}]}, "mark": {"type": "rect", "filled": false, "stroke": "#000", "strokeWidth": 2.8}, "encoding": {"x": {"datum": -6}, "x2": {"datum": 6}, "y": {"datum": 0}, "y2": {"datum": 220.5}}}
  ]
},
{
  "layer": [
    {
      "data": {"values": [
        {"sweep": "4/−4", "v": 4, "mw": 0.5}, {"sweep": "5/−5", "v": 5, "mw": 1.5}, {"sweep": "6/−6", "v": 6, "mw": 2.8}, {"sweep": "7/−7", "v": 7, "mw": 3.6}, {"sweep": "8/−8", "v": 8, "mw": 4.3}, {"sweep": "9/−9", "v": 9, "mw": 5.1}, {"sweep": "10/−10", "v": 10, "mw": 5.9}
      ]},
      "mark": {"type": "line", "color": "#0a0aff", "strokeWidth": 4},
      "encoding": {
        "x": {"field": "v", "type": "quantitative", "scale": {"domain": [3.5, 10.5], "range": [765, 1097], "nice": false, "zero": false},
              "axis": {"orient": "bottom", "offset": -185, "values": [4, 5, 6, 7, 8, 9, 10], "labelExpr": "datum.value + '/−' + datum.value", "title": "Sweeping Voltage (V)", "labelFontSize": 17, "titlePadding": 9}},
        "y": {"field": "mw", "type": "quantitative", "scale": {"domain": [-0.02, 6.22], "range": [692, 413], "nice": false, "zero": false},
              "axis": {"orient": "left", "offset": -765, "values": [0, 1, 2, 3, 4, 5, 6], "format": "d", "labelPadding": 15, "title": "Memory window (V)", "titlePadding": 17}}
      }
    },
    {
      "data": {"values": [
        {"sweep": "4/−4", "v": 4, "mw": 0.5}, {"sweep": "5/−5", "v": 5, "mw": 1.5}, {"sweep": "6/−6", "v": 6, "mw": 2.8}, {"sweep": "7/−7", "v": 7, "mw": 3.6}, {"sweep": "8/−8", "v": 8, "mw": 4.3}, {"sweep": "9/−9", "v": 9, "mw": 5.1}, {"sweep": "10/−10", "v": 10, "mw": 5.9}
      ]},
      "mark": {"type": "point", "filled": true, "opacity": 1, "size": 130, "strokeWidth": 0,
               "fill": {"gradient": "radial", "x1": 0.38, "y1": 0.32, "r1": 0.0, "x2": 0.5, "y2": 0.5, "r2": 0.55, "stops": [{"offset": 0, "color": "#e8eeff"}, {"offset": 0.35, "color": "#3a4dff"}, {"offset": 1, "color": "#0a0a9c"}]}},
      "encoding": {"x": {"field": "v", "type": "quantitative"}, "y": {"field": "mw", "type": "quantitative"}}
    },
    {"data": {"values": [{}]}, "mark": {"type": "text", "text": "D2", "color": "#000", "font": "Liberation Sans", "fontWeight": "bold", "fontSize": 20, "align": "center", "baseline": "middle"}, "encoding": {"x": {"datum": 9.88}, "y": {"datum": 4.71}}},
    {"data": {"values": [{}]}, "mark": {"type": "text", "text": "d", "color": "#000", "font": "Liberation Sans", "fontWeight": "bold", "fontSize": 23, "align": "center", "baseline": "middle"}, "encoding": {"x": {"datum": 1.56}, "y": {"datum": 6.22}}},
    {"data": {"values": [{}]}, "mark": {"type": "rect", "filled": false, "stroke": "#000", "strokeWidth": 2.8}, "encoding": {"x": {"datum": 3.5}, "x2": {"datum": 10.5}, "y": {"datum": -0.02}, "y2": {"datum": 6.22}}}
  ]
},
{
  "layer": [
    {
      "data": {"values": [{}]},
      "mark": {"type": "rect", "fill": "white", "stroke": "#000", "strokeWidth": 1.5},
      "encoding": {
        "x": {"datum": -4, "type": "quantitative", "scale": {"domain": [-4, 4.1], "range": [960, 1091], "nice": false, "zero": false},
              "axis": {"orient": "bottom", "offset": -221, "values": [-4, -3, -2, -1, 0, 1, 2, 3, 4], "format": "d", "title": "Voltage (V)", "labelFontSize": 10.5, "titleFontSize": 10.5, "tickSize": -3, "tickWidth": 1, "labelPadding": 7, "titlePadding": 2}},
        "x2": {"datum": 4.1},
        "y": {"datum": -8, "type": "quantitative", "scale": {"domain": [-8, 210.6], "range": [656, 547], "nice": false, "zero": false},
              "axis": {"orient": "left", "offset": -960, "values": [0, 40, 80, 120, 160, 200], "labelExpr": "datum.value == 0 ? '0.0' : format(datum.value, '.1f') + 'p'", "title": "Capacitance (F)", "labelFontSize": 10.5, "titleFontSize": 10.5, "tickSize": -3, "tickWidth": 1, "labelPadding": 9, "titlePadding": 5}},
        "y2": {"datum": 210.6}
      }
    },
    {
      "data": {"values": [
        {"v": -4, "c": 193.5, "f": "80 kHz"}, {"v": -3.8, "c": 194, "f": "80 kHz"}, {"v": -3.6, "c": 194.5, "f": "80 kHz"}, {"v": -3.4, "c": 195, "f": "80 kHz"}, {"v": -3.2, "c": 195, "f": "80 kHz"}, {"v": -3.0, "c": 195.5, "f": "80 kHz"}, {"v": -2.8, "c": 195.5, "f": "80 kHz"}, {"v": -2.6, "c": 196, "f": "80 kHz"}, {"v": -2.4, "c": 196, "f": "80 kHz"}, {"v": -2.2, "c": 196, "f": "80 kHz"}, {"v": -2.0, "c": 196.5, "f": "80 kHz"}, {"v": -1.8, "c": 196.5, "f": "80 kHz"}, {"v": -1.6, "c": 196.5, "f": "80 kHz"}, {"v": -1.4, "c": 196, "f": "80 kHz"}, {"v": -1.2, "c": 196, "f": "80 kHz"}, {"v": -1.0, "c": 195.5, "f": "80 kHz"}, {"v": -0.8, "c": 195, "f": "80 kHz"}, {"v": -0.6, "c": 194.5, "f": "80 kHz"}, {"v": -0.4, "c": 194, "f": "80 kHz"}, {"v": -0.2, "c": 193.5, "f": "80 kHz"}, {"v": 0, "c": 193, "f": "80 kHz"}, {"v": 0.2, "c": 192.5, "f": "80 kHz"}, {"v": 0.4, "c": 192.2, "f": "80 kHz"}, {"v": 0.6, "c": 192, "f": "80 kHz"},
        {"v": 0.8, "c": 191.4, "f": "80 kHz"}, {"v": 0.9, "c": 190.5, "f": "80 kHz"}, {"v": 1.0, "c": 189.0, "f": "80 kHz"}, {"v": 1.1, "c": 186.8, "f": "80 kHz"}, {"v": 1.2, "c": 184.1, "f": "80 kHz"}, {"v": 1.3, "c": 180.0, "f": "80 kHz"}, {"v": 1.4, "c": 174.7, "f": "80 kHz"}, {"v": 1.45, "c": 171.4, "f": "80 kHz"}, {"v": 1.5, "c": 167.7, "f": "80 kHz"}, {"v": 1.55, "c": 163.3, "f": "80 kHz"}, {"v": 1.6, "c": 158.5, "f": "80 kHz"}, {"v": 1.65, "c": 153.0, "f": "80 kHz"}, {"v": 1.7, "c": 147.1, "f": "80 kHz"}, {"v": 1.75, "c": 140.5, "f": "80 kHz"}, {"v": 1.8, "c": 133.5, "f": "80 kHz"}, {"v": 1.85, "c": 126.1, "f": "80 kHz"}, {"v": 1.9, "c": 118.2, "f": "80 kHz"}, {"v": 1.95, "c": 110.3, "f": "80 kHz"}, {"v": 2.0, "c": 102, "f": "80 kHz"}, {"v": 2.05, "c": 93.7, "f": "80 kHz"}, {"v": 2.1, "c": 85.8, "f": "80 kHz"}, {"v": 2.15, "c": 77.9, "f": "80 kHz"}, {"v": 2.2, "c": 70.5, "f": "80 kHz"}, {"v": 2.25, "c": 63.5, "f": "80 kHz"}, {"v": 2.3, "c": 56.9, "f": "80 kHz"}, {"v": 2.35, "c": 51.0, "f": "80 kHz"}, {"v": 2.4, "c": 45.5, "f": "80 kHz"}, {"v": 2.45, "c": 40.7, "f": "80 kHz"}, {"v": 2.5, "c": 36.3, "f": "80 kHz"}, {"v": 2.55, "c": 32.6, "f": "80 kHz"}, {"v": 2.6, "c": 29.3, "f": "80 kHz"}, {"v": 2.7, "c": 24.0, "f": "80 kHz"}, {"v": 2.8, "c": 19.9, "f": "80 kHz"}, {"v": 2.9, "c": 17.2, "f": "80 kHz"}, {"v": 3.0, "c": 15.0, "f": "80 kHz"}, {"v": 3.1, "c": 13.7, "f": "80 kHz"}, {"v": 3.3, "c": 11.8, "f": "80 kHz"}, {"v": 3.5, "c": 11.0, "f": "80 kHz"}, {"v": 3.7, "c": 10.6, "f": "80 kHz"}, {"v": 3.9, "c": 10.3, "f": "80 kHz"}, {"v": 4.0, "c": 10.2, "f": "80 kHz"},
        {"v": -4, "c": 188, "f": "200 kHz"}, {"v": -3.8, "c": 188.5, "f": "200 kHz"}, {"v": -3.6, "c": 189, "f": "200 kHz"}, {"v": -3.4, "c": 189, "f": "200 kHz"}, {"v": -3.2, "c": 189.5, "f": "200 kHz"}, {"v": -3.0, "c": 189.5, "f": "200 kHz"}, {"v": -2.8, "c": 190, "f": "200 kHz"}, {"v": -2.6, "c": 190, "f": "200 kHz"}, {"v": -2.4, "c": 190, "f": "200 kHz"}, {"v": -2.2, "c": 190, "f": "200 kHz"}, {"v": -2.0, "c": 190, "f": "200 kHz"}, {"v": -1.8, "c": 190, "f": "200 kHz"}, {"v": -1.6, "c": 190, "f": "200 kHz"}, {"v": -1.4, "c": 189.5, "f": "200 kHz"}, {"v": -1.2, "c": 189.5, "f": "200 kHz"}, {"v": -1.0, "c": 189, "f": "200 kHz"}, {"v": -0.8, "c": 188.5, "f": "200 kHz"}, {"v": -0.6, "c": 188, "f": "200 kHz"}, {"v": -0.4, "c": 187.5, "f": "200 kHz"}, {"v": -0.2, "c": 187.2, "f": "200 kHz"}, {"v": 0, "c": 187, "f": "200 kHz"}, {"v": 0.2, "c": 186.6, "f": "200 kHz"},
        {"v": 0.3, "c": 186.3, "f": "200 kHz"}, {"v": 0.4, "c": 185.2, "f": "200 kHz"}, {"v": 0.5, "c": 183.8, "f": "200 kHz"}, {"v": 0.6, "c": 181.4, "f": "200 kHz"}, {"v": 0.7, "c": 178.5, "f": "200 kHz"}, {"v": 0.8, "c": 174.3, "f": "200 kHz"}, {"v": 0.9, "c": 168.7, "f": "200 kHz"}, {"v": 0.95, "c": 165.3, "f": "200 kHz"}, {"v": 1.0, "c": 161.3, "f": "200 kHz"}, {"v": 1.05, "c": 157.0, "f": "200 kHz"}, {"v": 1.1, "c": 152.1, "f": "200 kHz"}, {"v": 1.15, "c": 146.5, "f": "200 kHz"}, {"v": 1.2, "c": 140.3, "f": "200 kHz"}, {"v": 1.25, "c": 133.6, "f": "200 kHz"}, {"v": 1.3, "c": 126.6, "f": "200 kHz"}, {"v": 1.35, "c": 119.1, "f": "200 kHz"}, {"v": 1.4, "c": 111.4, "f": "200 kHz"}, {"v": 1.45, "c": 103.4, "f": "200 kHz"}, {"v": 1.5, "c": 95.2, "f": "200 kHz"}, {"v": 1.55, "c": 87.3, "f": "200 kHz"}, {"v": 1.6, "c": 79.3, "f": "200 kHz"}, {"v": 1.65, "c": 71.9, "f": "200 kHz"}, {"v": 1.7, "c": 64.7, "f": "200 kHz"}, {"v": 1.75, "c": 58.0, "f": "200 kHz"}, {"v": 1.8, "c": 51.8, "f": "200 kHz"}, {"v": 1.85, "c": 46.2, "f": "200 kHz"}, {"v": 1.9, "c": 40.9, "f": "200 kHz"}, {"v": 1.95, "c": 36.4, "f": "200 kHz"}, {"v": 2.0, "c": 32.4, "f": "200 kHz"}, {"v": 2.05, "c": 28.8, "f": "200 kHz"}, {"v": 2.1, "c": 25.9, "f": "200 kHz"}, {"v": 2.2, "c": 20.9, "f": "200 kHz"}, {"v": 2.3, "c": 17.2, "f": "200 kHz"}, {"v": 2.4, "c": 14.5, "f": "200 kHz"}, {"v": 2.5, "c": 12.7, "f": "200 kHz"}, {"v": 2.6, "c": 11.3, "f": "200 kHz"}, {"v": 2.8, "c": 9.6, "f": "200 kHz"}, {"v": 3.0, "c": 8.9, "f": "200 kHz"}, {"v": 3.2, "c": 8.5, "f": "200 kHz"}, {"v": 3.4, "c": 8.3, "f": "200 kHz"}, {"v": 3.6, "c": 8.2, "f": "200 kHz"}, {"v": 3.8, "c": 8.1, "f": "200 kHz"}, {"v": 4.0, "c": 8.0, "f": "200 kHz"},
        {"v": -4, "c": 183.5, "f": "350 kHz"}, {"v": -3.8, "c": 184, "f": "350 kHz"}, {"v": -3.6, "c": 184.5, "f": "350 kHz"}, {"v": -3.4, "c": 184.5, "f": "350 kHz"}, {"v": -3.2, "c": 185, "f": "350 kHz"}, {"v": -3.0, "c": 185, "f": "350 kHz"}, {"v": -2.8, "c": 185, "f": "350 kHz"}, {"v": -2.6, "c": 185, "f": "350 kHz"}, {"v": -2.4, "c": 185, "f": "350 kHz"}, {"v": -2.2, "c": 185, "f": "350 kHz"}, {"v": -2.0, "c": 185, "f": "350 kHz"}, {"v": -1.8, "c": 185, "f": "350 kHz"}, {"v": -1.6, "c": 184.5, "f": "350 kHz"}, {"v": -1.4, "c": 184.5, "f": "350 kHz"}, {"v": -1.2, "c": 184, "f": "350 kHz"}, {"v": -1.0, "c": 183.5, "f": "350 kHz"}, {"v": -0.8, "c": 183, "f": "350 kHz"}, {"v": -0.6, "c": 182.5, "f": "350 kHz"}, {"v": -0.4, "c": 182, "f": "350 kHz"},
        {"v": -0.3, "c": 181.7, "f": "350 kHz"}, {"v": -0.2, "c": 180.6, "f": "350 kHz"}, {"v": -0.1, "c": 179.0, "f": "350 kHz"}, {"v": 0.0, "c": 176.7, "f": "350 kHz"}, {"v": 0.1, "c": 173.5, "f": "350 kHz"}, {"v": 0.2, "c": 169.2, "f": "350 kHz"}, {"v": 0.3, "c": 163.4, "f": "350 kHz"}, {"v": 0.35, "c": 159.8, "f": "350 kHz"}, {"v": 0.4, "c": 155.7, "f": "350 kHz"}, {"v": 0.45, "c": 151.1, "f": "350 kHz"}, {"v": 0.5, "c": 146.2, "f": "350 kHz"}, {"v": 0.55, "c": 140.5, "f": "350 kHz"}, {"v": 0.6, "c": 134.3, "f": "350 kHz"}, {"v": 0.65, "c": 127.5, "f": "350 kHz"}, {"v": 0.7, "c": 120.4, "f": "350 kHz"}, {"v": 0.75, "c": 113.0, "f": "350 kHz"}, {"v": 0.8, "c": 105.2, "f": "350 kHz"}, {"v": 0.85, "c": 97.3, "f": "350 kHz"}, {"v": 0.9, "c": 89.4, "f": "350 kHz"}, {"v": 0.95, "c": 81.6, "f": "350 kHz"}, {"v": 1.0, "c": 74.1, "f": "350 kHz"}, {"v": 1.05, "c": 66.6, "f": "350 kHz"}, {"v": 1.1, "c": 59.9, "f": "350 kHz"}, {"v": 1.15, "c": 53.5, "f": "350 kHz"}, {"v": 1.2, "c": 47.6, "f": "350 kHz"}, {"v": 1.25, "c": 42.3, "f": "350 kHz"}, {"v": 1.3, "c": 37.5, "f": "350 kHz"}, {"v": 1.35, "c": 33.3, "f": "350 kHz"}, {"v": 1.4, "c": 29.5, "f": "350 kHz"}, {"v": 1.45, "c": 26.2, "f": "350 kHz"}, {"v": 1.5, "c": 23.3, "f": "350 kHz"}, {"v": 1.6, "c": 18.7, "f": "350 kHz"}, {"v": 1.7, "c": 15.3, "f": "350 kHz"}, {"v": 1.8, "c": 13.0, "f": "350 kHz"}, {"v": 1.9, "c": 11.3, "f": "350 kHz"}, {"v": 2.0, "c": 10.0, "f": "350 kHz"}, {"v": 2.2, "c": 8.6, "f": "350 kHz"}, {"v": 2.4, "c": 7.9, "f": "350 kHz"}, {"v": 2.6, "c": 7.5, "f": "350 kHz"}, {"v": 2.8, "c": 7.3, "f": "350 kHz"}, {"v": 3.0, "c": 7.2, "f": "350 kHz"}, {"v": 3.2, "c": 7.1, "f": "350 kHz"}, {"v": 3.4, "c": 7.0, "f": "350 kHz"}, {"v": 3.6, "c": 7.0, "f": "350 kHz"}, {"v": 3.8, "c": 7.0, "f": "350 kHz"}, {"v": 4.0, "c": 7.0, "f": "350 kHz"},
        {"v": -4, "c": 180, "f": "400 kHz"}, {"v": -3.8, "c": 180.5, "f": "400 kHz"}, {"v": -3.6, "c": 180.5, "f": "400 kHz"}, {"v": -3.4, "c": 181, "f": "400 kHz"}, {"v": -3.2, "c": 181, "f": "400 kHz"}, {"v": -3.0, "c": 181, "f": "400 kHz"}, {"v": -2.8, "c": 181, "f": "400 kHz"}, {"v": -2.6, "c": 181, "f": "400 kHz"}, {"v": -2.4, "c": 181, "f": "400 kHz"}, {"v": -2.2, "c": 181, "f": "400 kHz"}, {"v": -2.0, "c": 181, "f": "400 kHz"}, {"v": -1.8, "c": 180.5, "f": "400 kHz"}, {"v": -1.6, "c": 180, "f": "400 kHz"}, {"v": -1.4, "c": 179.5, "f": "400 kHz"}, {"v": -1.2, "c": 179, "f": "400 kHz"},
        {"v": -1.0, "c": 178.2, "f": "400 kHz"}, {"v": -0.9, "c": 177.0, "f": "400 kHz"}, {"v": -0.8, "c": 175.2, "f": "400 kHz"}, {"v": -0.7, "c": 173.0, "f": "400 kHz"}, {"v": -0.6, "c": 169.8, "f": "400 kHz"}, {"v": -0.5, "c": 165.4, "f": "400 kHz"}, {"v": -0.4, "c": 159.5, "f": "400 kHz"}, {"v": -0.35, "c": 155.8, "f": "400 kHz"}, {"v": -0.3, "c": 151.8, "f": "400 kHz"}, {"v": -0.25, "c": 147.2, "f": "400 kHz"}, {"v": -0.2, "c": 142.0, "f": "400 kHz"}, {"v": -0.15, "c": 136.4, "f": "400 kHz"}, {"v": -0.1, "c": 130.1, "f": "400 kHz"}, {"v": -0.05, "c": 123.4, "f": "400 kHz"}, {"v": 0.0, "c": 116.4, "f": "400 kHz"}, {"v": 0.05, "c": 108.9, "f": "400 kHz"}, {"v": 0.1, "c": 101.4, "f": "400 kHz"}, {"v": 0.15, "c": 93.5, "f": "400 kHz"}, {"v": 0.2, "c": 85.6, "f": "400 kHz"}, {"v": 0.25, "c": 78.1, "f": "400 kHz"}, {"v": 0.3, "c": 70.6, "f": "400 kHz"}, {"v": 0.35, "c": 63.6, "f": "400 kHz"}, {"v": 0.4, "c": 56.9, "f": "400 kHz"}, {"v": 0.45, "c": 50.6, "f": "400 kHz"}, {"v": 0.5, "c": 45.0, "f": "400 kHz"}, {"v": 0.55, "c": 39.8, "f": "400 kHz"}, {"v": 0.6, "c": 35.2, "f": "400 kHz"}, {"v": 0.65, "c": 31.0, "f": "400 kHz"}, {"v": 0.7, "c": 27.5, "f": "400 kHz"}, {"v": 0.75, "c": 24.4, "f": "400 kHz"}, {"v": 0.8, "c": 21.6, "f": "400 kHz"}, {"v": 0.9, "c": 17.2, "f": "400 kHz"}, {"v": 1.0, "c": 14.1, "f": "400 kHz"}, {"v": 1.1, "c": 11.8, "f": "400 kHz"}, {"v": 1.2, "c": 10.0, "f": "400 kHz"}, {"v": 1.3, "c": 8.8, "f": "400 kHz"}, {"v": 1.5, "c": 7.4, "f": "400 kHz"}, {"v": 1.7, "c": 6.8, "f": "400 kHz"}, {"v": 1.9, "c": 6.4, "f": "400 kHz"}, {"v": 2.1, "c": 6.2, "f": "400 kHz"}, {"v": 2.3, "c": 6.1, "f": "400 kHz"}, {"v": 2.5, "c": 6.0, "f": "400 kHz"}, {"v": 2.7, "c": 6.0, "f": "400 kHz"}, {"v": 2.9, "c": 6.0, "f": "400 kHz"}, {"v": 3.1, "c": 6.0, "f": "400 kHz"}, {"v": 3.3, "c": 6.0, "f": "400 kHz"}, {"v": 3.5, "c": 6.0, "f": "400 kHz"}, {"v": 3.7, "c": 6.0, "f": "400 kHz"}, {"v": 3.9, "c": 6.0, "f": "400 kHz"}
      ]},
      "mark": {"type": "line", "strokeWidth": 1, "point": {"filled": false, "fill": "white", "size": 16, "strokeWidth": 1.1}},
      "encoding": {
        "x": {"field": "v", "type": "quantitative"},
        "y": {"field": "c", "type": "quantitative"},
        "color": {"field": "f", "type": "nominal", "sort": null,
                  "scale": {"domain": ["80 kHz", "200 kHz", "350 kHz", "400 kHz"], "range": ["#8e258e", "#ff1010", "#10d010", "#1a1aff"]},
                  "legend": {"orient": "none", "legendX": 967, "legendY": 597, "title": null, "padding": 0, "symbolType": "M-1.4,0H-0.42M0.42,0H1.4M0.42,0A0.42,0.42,0,1,1,-0.42,0A0.42,0.42,0,1,1,0.42,0", "symbolSize": 144, "symbolStrokeWidth": 1.3, "symbolFillColor": "white", "labelFont": "Liberation Sans", "labelFontWeight": "bold", "labelFontSize": 10.5, "labelOffset": 9, "rowPadding": 0,
                             "labelColor": {"expr": "datum.label == '80 kHz' ? '#8e258e' : datum.label == '200 kHz' ? '#ff1010' : datum.label == '350 kHz' ? '#10d010' : '#1a1aff'"}}}
      }
    }
  ]
},
{
  "layer": [
    {
      "data": {"values": [{"line": 1, "text": "Fig. 6 MoS₂ structural characterization and the resulting charge trapping memory electrical performance. a"}]},
      "mark": {"type": "text", "align": "left", "baseline": "alphabetic", "font": "Noto Sans", "fontWeight": "bold", "fontSize": 18.4, "color": "#231f20"},
      "encoding": {
        "x": {"datum": 0, "type": "quantitative", "scale": {"domain": [0, 1], "range": [15, 1267], "nice": false, "zero": false}, "axis": null},
        "y": {"field": "line", "type": "quantitative", "scale": {"domain": [1, 4], "range": [789, 864], "nice": false, "zero": false}, "axis": null},
        "text": {"field": "text"}
      }
    },
    {
      "data": {"values": [{"line": 2, "text": "cast MoS₂ layer,"}, {"line": 3, "text": "characteristics of the device with sweeping voltages of +4/−4 to +10/−10 in the programmed and erased conditions, and"}, {"line": 4, "text": "the device with sweeping voltages (inset shows the frequency-dependent C–V curve of the D2 device)"}]},
      "mark": {"type": "text", "align": "left", "baseline": "alphabetic", "font": "Noto Sans", "fontSize": 18.6, "color": "#231f20"},
      "encoding": {"x": {"datum": 0, "axis": null}, "y": {"field": "line", "type": "quantitative", "axis": null}, "text": {"field": "text"}}
    },
    {
      "data": {"values": [{"line": 1, "text": "Raman spectrum of the drop-"}]},
      "mark": {"type": "text", "align": "right", "baseline": "alphabetic", "font": "Noto Sans", "fontSize": 18.6, "color": "#231f20"},
      "encoding": {"x": {"datum": 0.9936, "axis": null}, "y": {"field": "line", "type": "quantitative", "axis": null}, "text": {"field": "text"}}
    },
    {
      "data": {"values": [{"line": 2, "text": "b"}]},
      "mark": {"type": "text", "align": "left", "baseline": "alphabetic", "font": "Noto Sans", "fontWeight": "bold", "fontSize": 18.4, "color": "#231f20"},
      "encoding": {"x": {"datum": 0.1078, "axis": null}, "y": {"field": "line", "type": "quantitative", "axis": null}, "text": {"field": "text"}}
    },
    {
      "data": {"values": [{"line": 2, "text": "C–V characteristics of the D2 device for 50 repeated programmed and erased cycles with a frequency of 80 kHz,"}]},
      "mark": {"type": "text", "align": "left", "baseline": "alphabetic", "font": "Noto Sans", "fontSize": 18.6, "color": "#231f20"},
      "encoding": {"x": {"datum": 0.1182, "axis": null}, "y": {"field": "line", "type": "quantitative", "axis": null}, "text": {"field": "text"}}
    },
    {
      "data": {"values": [{"line": 2, "text": "c"}]},
      "mark": {"type": "text", "align": "left", "baseline": "alphabetic", "font": "Noto Sans", "fontWeight": "bold", "fontSize": 18.4, "color": "#231f20"},
      "encoding": {"x": {"datum": 0.8946, "axis": null}, "y": {"field": "line", "type": "quantitative", "axis": null}, "text": {"field": "text"}}
    },
    {
      "data": {"values": [{"line": 2, "text": "C–V"}]},
      "mark": {"type": "text", "align": "left", "baseline": "alphabetic", "font": "Noto Sans", "fontSize": 18.6, "color": "#231f20"},
      "encoding": {"x": {"datum": 0.9073, "axis": null}, "y": {"field": "line", "type": "quantitative", "axis": null}, "text": {"field": "text"}}
    },
    {
      "data": {"values": [{"line": 3, "text": "d"}]},
      "mark": {"type": "text", "align": "left", "baseline": "alphabetic", "font": "Noto Sans", "fontWeight": "bold", "fontSize": 18.4, "color": "#231f20"},
      "encoding": {"x": {"datum": 0.8427, "axis": null}, "y": {"field": "line", "type": "quantitative", "axis": null}, "text": {"field": "text"}}
    },
    {
      "data": {"values": [{"line": 3, "text": "memory window of"}]},
      "mark": {"type": "text", "align": "left", "baseline": "alphabetic", "font": "Noto Sans", "fontSize": 18.6, "color": "#231f20"},
      "encoding": {"x": {"datum": 0.8554, "axis": null}, "y": {"field": "line", "type": "quantitative", "axis": null}, "text": {"field": "text"}}
    }
  ]
}
]
}
